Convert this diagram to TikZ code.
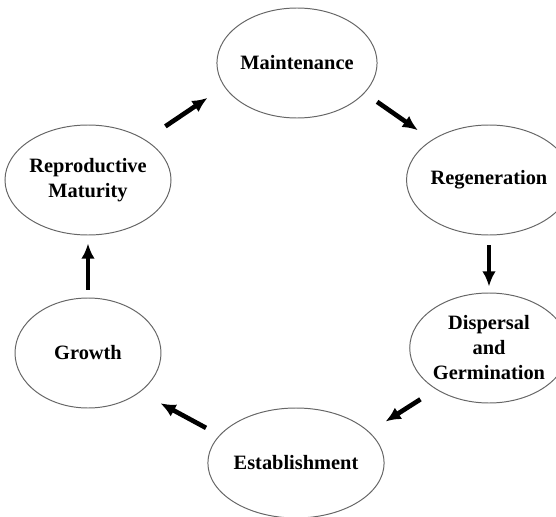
\documentclass[tikz,border=0pt]{standalone}
\usepackage{fontspec}
\setmainfont{Liberation Serif}
\usetikzlibrary{arrows.meta,shapes.geometric}

\begin{document}
\begin{tikzpicture}[
			x=0.25mm, y=-0.25mm,
			stage/.style={ellipse, draw=black!60, line width=0.7pt, minimum width=36.5mm, minimum height=27.5mm, inner sep=0pt, align=center, font=\bfseries\fontsize{14.5}{17.8}\selectfont},
			line/.style={draw, line width=3.3pt, -{Latex[length=3.8mm,width=3.4mm]}}
			]
			\useasboundingbox (0,0) rectangle (556,517);
			% Stages
			\node [stage] (maint) at (297,63) {Maintenance};
			\node [stage] (regen) at (489,180) {Regeneration};
			\node [stage] (disp) at (489,348) {Dispersal\\and\\Germination};
			\node [stage] (estab) at (296,463) {Establishment};
			\node [stage] (growth) at (88,353) {Growth};
			\node [stage] (repro) at (88,180) {Reproductive\\Maturity};

			% Cycle
			\path [line, shorten <=6mm, shorten >=5mm] (repro.35) -- (maint.198);
			\path [line, shorten <=3.8mm, shorten >=4.2mm] (maint.336) -- (regen.145);
			\path [line, shorten <=2.5mm, shorten >=1.5mm] (regen) -- (disp);
			\path [line, shorten <=4.6mm, shorten >=4.8mm] (disp.218) -- (estab.23);
			\path [line, shorten <=3.8mm, shorten >=5.8mm] (estab.160) -- (growth.323);
			\path [line, shorten <=2mm, shorten >=2mm] (growth) -- (repro);
		\end{tikzpicture}
\end{document}
